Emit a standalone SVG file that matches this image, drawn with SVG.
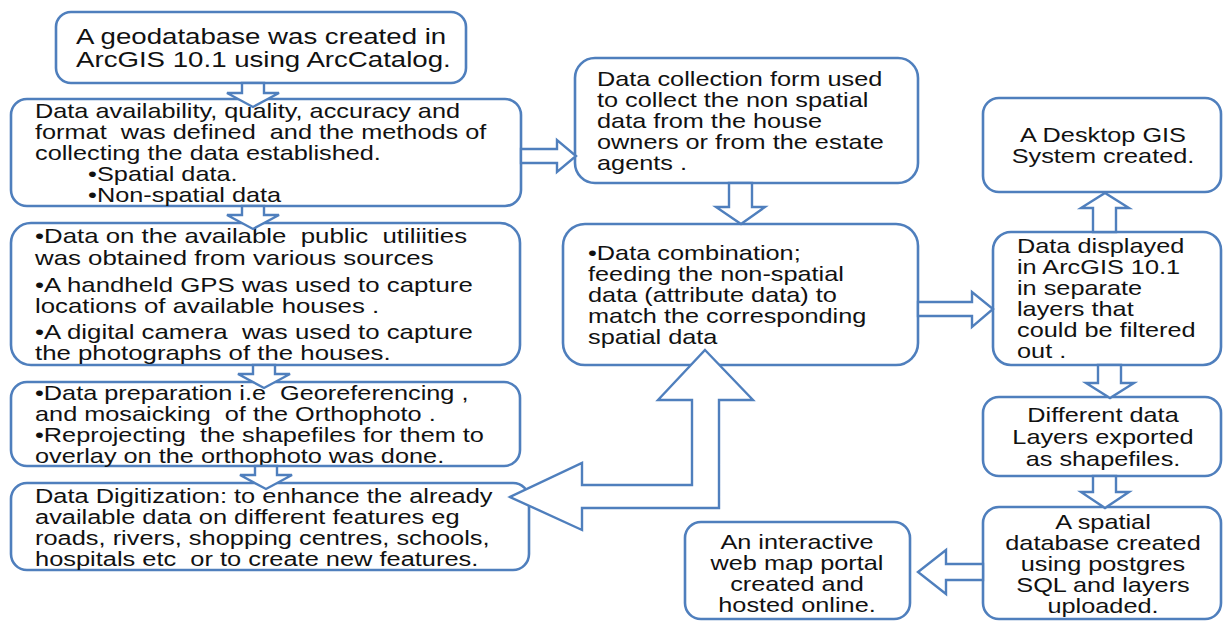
<svg xmlns="http://www.w3.org/2000/svg" width="1224" height="621" viewBox="0 0 1224 621">
  <style>
    .box { fill: #ffffff; stroke: #4f7fbd; stroke-width: 2.6; }
    .blk { fill: #ffffff; stroke: #4f7fbd; stroke-width: 2.4; stroke-linejoin: miter; }
    .t { font-family: "Liberation Sans", Arial, sans-serif; font-size: 20px; fill: #111111; white-space: pre; }
    .big { font-size: 21.5px; }
    .c { text-anchor: middle; }
  </style>
  <rect width="1224" height="621" fill="#ffffff"/>

  <!-- left column -->
  <g id="geodatabase">
    <rect class="box" x="56" y="12" width="410" height="71" rx="15"/>
    <text class="t big" transform="translate(76 0) scale(1.286 1)"><tspan x="0" y="44">A geodatabase was created in</tspan><tspan x="0" y="67">ArcGIS 10.1 using ArcCatalog.</tspan></text>
  </g>
  <g id="data-availability">
    <rect class="box" x="11" y="99" width="510" height="107" rx="16"/>
    <text class="t" transform="translate(35 0) scale(1.265 1)"><tspan x="0" y="118">Data availability, quality, accuracy and</tspan><tspan x="0" y="139">format  was defined  and the methods of</tspan><tspan x="0" y="160">collecting the data established.</tspan><tspan x="42" y="181">•Spatial data.</tspan><tspan x="42" y="202">•Non-spatial data</tspan></text>
  </g>
  <g id="data-sources">
    <rect class="box" x="11" y="223" width="509" height="142" rx="20"/>
    <text class="t" transform="translate(35 0) scale(1.29 1)"><tspan x="0" y="243">•Data on the available  public  utiliities</tspan><tspan x="0" y="265">was obtained from various sources</tspan><tspan x="0" y="292">•A handheld GPS was used to capture</tspan><tspan x="0" y="313">locations of available houses .</tspan><tspan x="0" y="339">•A digital camera  was used to capture</tspan><tspan x="0" y="360">the photographs of the houses.</tspan></text>
  </g>
  <g id="data-preparation">
    <rect class="box" x="11" y="382" width="509" height="84" rx="16"/>
    <text class="t" transform="translate(35 0) scale(1.265 1)"><tspan x="0" y="400">•Data preparation i.e  Georeferencing ,</tspan><tspan x="0" y="421">and mosaicking  of the Orthophoto .</tspan><tspan x="0" y="442">•Reprojecting  the shapefiles for them to</tspan><tspan x="0" y="463">overlay on the orthophoto was done.</tspan></text>
  </g>
  <g id="data-digitization">
    <rect class="box" x="11" y="483" width="518" height="87" rx="16"/>
    <text class="t" transform="translate(35 0) scale(1.27 1)"><tspan x="0" y="503">Data Digitization: to enhance the already</tspan><tspan x="0" y="524">available data on different features eg</tspan><tspan x="0" y="545">roads, rivers, shopping centres, schools,</tspan><tspan x="0" y="566">hospitals etc  or to create new features.</tspan></text>
  </g>

  <!-- middle column -->
  <g id="collection-form">
    <rect class="box" x="575" y="58" width="343" height="125" rx="20"/>
    <text class="t" transform="translate(597 0) scale(1.265 1)"><tspan x="0" y="86">Data collection form used</tspan><tspan x="0" y="107">to collect the non spatial</tspan><tspan x="0" y="128">data from the house</tspan><tspan x="0" y="149">owners or from the estate</tspan><tspan x="0" y="170">agents .</tspan></text>
  </g>
  <g id="data-combination">
    <rect class="box" x="563" y="224" width="355" height="141" rx="22"/>
    <text class="t" transform="translate(588 0) scale(1.265 1)"><tspan x="0" y="260">•Data combination;</tspan><tspan x="0" y="281">feeding the non-spatial</tspan><tspan x="0" y="302">data (attribute data) to</tspan><tspan x="0" y="323">match the corresponding</tspan><tspan x="0" y="344">spatial data</tspan></text>
  </g>
  <g id="web-portal">
    <rect class="box" x="685" y="522" width="225" height="97" rx="16"/>
    <text class="t c" transform="translate(797 0) scale(1.265 1)"><tspan x="0" y="549">An interactive</tspan><tspan x="0" y="570">web map portal</tspan><tspan x="0" y="591">created and</tspan><tspan x="0" y="612">hosted online.</tspan></text>
  </g>

  <!-- right column -->
  <g id="desktop-gis">
    <rect class="box" x="983" y="98" width="238" height="94" rx="16"/>
    <text class="t c" transform="translate(1103 0) scale(1.265 1)"><tspan x="0" y="142">A Desktop GIS</tspan><tspan x="0" y="163">System created.</tspan></text>
  </g>
  <g id="data-displayed">
    <rect class="box" x="993" y="232" width="228" height="133" rx="18"/>
    <text class="t" transform="translate(1017 0) scale(1.265 1)"><tspan x="0" y="253">Data displayed</tspan><tspan x="0" y="274">in ArcGIS 10.1</tspan><tspan x="0" y="295">in separate</tspan><tspan x="0" y="316">layers that</tspan><tspan x="0" y="337">could be filtered</tspan><tspan x="0" y="358">out .</tspan></text>
  </g>
  <g id="layers-exported">
    <rect class="box" x="983" y="397" width="238" height="79" rx="16"/>
    <text class="t c" transform="translate(1103 0) scale(1.265 1)"><tspan x="0" y="422">Different data</tspan><tspan x="0" y="444">Layers exported</tspan><tspan x="0" y="466">as shapefiles.</tspan></text>
  </g>
  <g id="spatial-database">
    <rect class="box" x="983" y="507" width="238" height="112" rx="16"/>
    <text class="t c" transform="translate(1103 0) scale(1.265 1)"><tspan x="0" y="529">A spatial</tspan><tspan x="0" y="550">database created</tspan><tspan x="0" y="571">using postgres</tspan><tspan x="0" y="592">SQL and layers</tspan><tspan x="0" y="613">uploaded.</tspan></text>
  </g>

  <!-- hollow block arrows -->
  <g id="connectors">
    <!-- down arrows, left column -->
    <polygon class="blk" points="242,83 264,83 264,93 279,93 253,107 227,93 242,93"/>
    <polygon class="blk" points="242,206 264,206 264,215 279,215 253,229 227,215 242,215"/>
    <polygon class="blk" points="253,365 275,365 275,374 290,374 264,388 238,374 253,374"/>
    <polygon class="blk" points="255,466 277,466 277,475 292,475 266,489 240,475 255,475"/>
    <!-- availability to collection form -->
    <polygon class="blk" points="521,149 557,149 557,140 576,156 557,172 557,163 521,163"/>
    <!-- collection form to combination -->
    <polygon class="blk" points="729,183 752,183 752,207 765,207 741,224 716,207 729,207"/>
    <!-- combination to data displayed -->
    <polygon class="blk" points="918,302 972,302 972,292 993,309 972,327 972,316 918,316"/>
    <!-- data displayed up to desktop GIS -->
    <polygon class="blk" points="1093,232 1093,208 1081,208 1105,193 1129,208 1116,208 1116,232"/>
    <!-- data displayed down to layers exported -->
    <polygon class="blk" points="1098,365 1121,365 1121,383 1134,383 1110,398 1086,383 1098,383"/>
    <!-- layers exported down to spatial database -->
    <polygon class="blk" points="1093,476 1116,476 1116,492 1129,492 1105,508 1081,492 1093,492"/>
    <!-- spatial database to web portal -->
    <polygon class="blk" points="983,564 946,564 946,550 918,572 946,594 946,580 983,580"/>
    <!-- bent arrow: digitization feeds back up into combination -->
    <polygon class="blk" points="705,350 753,400 719,400 719,508 582,508 582,530 510,497 582,463 582,485 692,485 692,400 658,400"/>
  </g>
</svg>
